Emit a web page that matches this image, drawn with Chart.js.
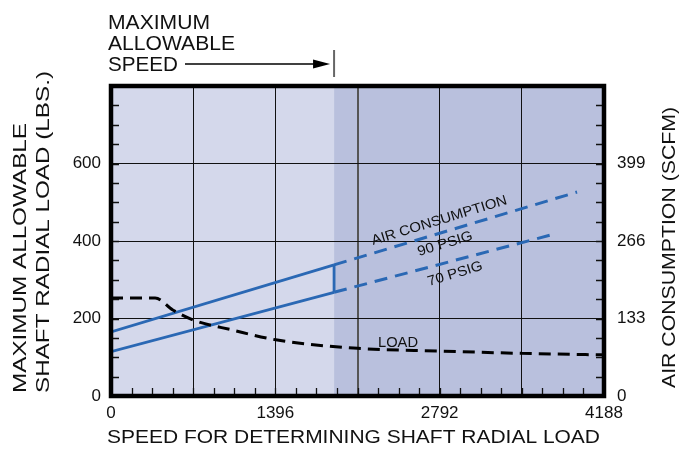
<!DOCTYPE html>
<html lang="en">
<head>
    <meta charset="UTF-8">
    <title>Shaft Radial Load</title>
    <script src="https://cdn.jsdelivr.net/npm/chart.js"></script>
    <style>
        body { margin: 0; background: #fff; }
        canvas { display: block; }
    </style>
</head>
<body>
    <canvas id="loadChart" width="680" height="454"></canvas>
    <script>
        // values
        const maxSpeed = 1895;
        const airSpeed = [0, 1895];
        const air90 = [110, 225];
        const air70 = [76, 178];
        const air90DashSpeed = [1895, 3959];
        const air90Dash = [225, 350];
        const air70DashSpeed = [1895, 3729];
        const air70Dash = [178, 276];
        const loadSpeed = [0, 375, 525, 700, 1035, 1400, 2095, 2795, 3490, 4188];
        const loadLbs = [253, 253, 222, 196, 170, 145, 123, 116, 110, 106];

        const xTicks = [0, 698, 1396, 2094, 2792, 3490, 4188];
        const xLabels = [0, 1396, 2792, 4188];
        const loadTicks = [0, 200, 400, 600, 800];
        const airTicks = [0, 133, 266, 399, 532];

        const FONT = '"Liberation Sans", Arial, sans-serif';
        const BLUE = '#2a68b4';

        function pts(xs, ys) {
            return xs.map((x, i) => ({ x: x, y: ys[i] }));
        }

        // text squeezed/stretched to a given width (the original lettering is wide)
        function wideText(ctx, text, x, y, size, width, angle, align) {
            ctx.save();
            ctx.translate(x, y);
            ctx.rotate(angle || 0);
            ctx.font = size + 'px ' + FONT;
            const w = ctx.measureText(text).width;
            ctx.scale(width / w, 1);
            ctx.textAlign = align || 'left';
            ctx.textBaseline = 'alphabetic';
            ctx.fillStyle = '#111';
            ctx.fillText(text, 0, 0);
            ctx.restore();
        }

        const decor = {
            id: 'decor',
            beforeDraw(chart) {
                const ctx = chart.ctx, a = chart.chartArea, xs = chart.scales.x;
                const mx = xs.getPixelForValue(maxSpeed);
                ctx.save();
                ctx.fillStyle = '#d4d8eb';
                ctx.fillRect(a.left, a.top, mx - a.left, a.bottom - a.top);
                ctx.fillStyle = '#b9c0dd';
                ctx.fillRect(mx, a.top, a.right - mx, a.bottom - a.top);
                ctx.restore();
            },
            afterDraw(chart) {
                const ctx = chart.ctx, a = chart.chartArea;
                const xs = chart.scales.x, ys = chart.scales.y;
                ctx.save();
                // minor ticks inside the frame
                ctx.strokeStyle = '#111';
                ctx.lineWidth = 1.3;
                ctx.beginPath();
                for (let v = 50; v < 800; v += 50) {
                    const py = Math.round(ys.getPixelForValue(v)) + 0.5;
                    ctx.moveTo(a.left, py); ctx.lineTo(a.left + 8, py);
                    ctx.moveTo(a.right, py); ctx.lineTo(a.right - 8, py);
                }
                for (let v = 174.5; v < 4188; v += 174.5) {
                    const px = Math.round(xs.getPixelForValue(v)) + 0.5;
                    ctx.moveTo(px, a.bottom); ctx.lineTo(px, a.bottom - 8);
                }
                ctx.stroke();

                // heavy frame
                ctx.lineWidth = 4.5;
                ctx.strokeStyle = '#000';
                ctx.strokeRect(a.left, a.top, a.right - a.left, a.bottom - a.top);

                // max allowable speed note
                const mx = xs.getPixelForValue(maxSpeed);
                wideText(ctx, 'MAXIMUM', 108, 29, 19.5, 102);
                wideText(ctx, 'ALLOWABLE', 108, 49.5, 19.5, 127);
                wideText(ctx, 'SPEED', 108, 71, 19.5, 70);
                ctx.strokeStyle = '#000';
                ctx.lineWidth = 1.4;
                ctx.beginPath();
                ctx.moveTo(185, 64); ctx.lineTo(mx - 18, 64);
                ctx.stroke();
                ctx.fillStyle = '#000';
                ctx.beginPath();
                ctx.moveTo(mx - 21, 59.5); ctx.lineTo(mx - 4, 64); ctx.lineTo(mx - 21, 68.5);
                ctx.closePath();
                ctx.fill();
                ctx.strokeStyle = '#666';
                ctx.lineWidth = 2;
                ctx.beginPath();
                ctx.moveTo(mx, 50); ctx.lineTo(mx, 77);
                ctx.stroke();

                // axis titles
                wideText(ctx, 'MAXIMUM ALLOWABLE', 26, 393, 18, 270, -Math.PI / 2);
                wideText(ctx, 'SHAFT RADIAL LOAD (LBS.)', 49, 393, 18, 322, -Math.PI / 2);
                wideText(ctx, 'AIR CONSUMPTION (SCFM)', 675, 388, 18.5, 281, -Math.PI / 2);
                wideText(ctx, 'SPEED FOR DETERMINING SHAFT RADIAL LOAD', 107, 443, 18.5, 493);

                // curve labels
                const ang = -17 * Math.PI / 180;
                wideText(ctx, 'AIR CONSUMPTION', 373, 245, 14, 141, ang);
                wideText(ctx, '90 PSIG', 419, 256, 14, 57, ang);
                wideText(ctx, '70 PSIG', 429, 286, 14, 57, ang);
                wideText(ctx, 'LOAD', 378, 347, 14.5, 40);
                ctx.restore();
            }
        };

        const lineBase = { pointRadius: 0, fill: false, borderCapStyle: 'butt' };

        new Chart(document.getElementById('loadChart'), {
            type: 'line',
            data: {
                datasets: [
                    Object.assign({ label: 'Load', data: pts(loadSpeed, loadLbs), yAxisID: 'y',
                        borderColor: '#000', borderWidth: 3, borderDash: [12, 7],
                        cubicInterpolationMode: 'monotone' }, lineBase),
                    Object.assign({ label: '90 PSIG', data: pts(airSpeed, air90), yAxisID: 'y1',
                        borderColor: BLUE, borderWidth: 2.8 }, lineBase),
                    Object.assign({ label: '70 PSIG', data: pts(airSpeed, air70), yAxisID: 'y1',
                        borderColor: BLUE, borderWidth: 2.8 }, lineBase),
                    Object.assign({ label: 'limit', yAxisID: 'y1', borderColor: BLUE, borderWidth: 2.8,
                        data: [{ x: maxSpeed, y: air70[1] }, { x: maxSpeed, y: air90[1] }] }, lineBase),
                    Object.assign({ label: '90 PSIG ext', data: pts(air90DashSpeed, air90Dash), yAxisID: 'y1',
                        borderColor: BLUE, borderWidth: 3, borderDash: [13, 8] }, lineBase),
                    Object.assign({ label: '70 PSIG ext', data: pts(air70DashSpeed, air70Dash), yAxisID: 'y1',
                        borderColor: BLUE, borderWidth: 3, borderDash: [13, 8] }, lineBase)
                ]
            },
            options: {
                responsive: false,
                animation: false,
                layout: { padding: { top: 86, left: 0, right: 0, bottom: 0 } },
                plugins: { legend: { display: false }, tooltip: { enabled: false } },
                scales: {
                    x: {
                        type: 'linear', min: 0, max: 4188,
                        afterBuildTicks: s => { s.ticks = xTicks.map(v => ({ value: v })); },
                        afterFit: s => { s.height = 58; },
                        border: { display: false },
                        grid: {
                            drawTicks: false,
                            color: c => (c.tick.value === 0 || c.tick.value === 4188) ? 'rgba(0,0,0,0)'
                                : (c.tick.value === 2094 ? '#555' : '#111'),
                            lineWidth: c => c.tick.value === 2094 ? 2 : 1
                        },
                        ticks: {
                            autoSkip: false, maxRotation: 0, padding: 7,
                            color: '#111', font: { family: FONT, size: 17 },
                            callback: v => xLabels.includes(v) ? String(v) : ''
                        }
                    },
                    y: {
                        position: 'left', min: 0, max: 800,
                        afterBuildTicks: s => { s.ticks = loadTicks.map(v => ({ value: v })); },
                        afterFit: s => { s.width = 111; },
                        border: { display: false },
                        grid: {
                            drawTicks: false,
                            color: c => (c.tick.value === 0 || c.tick.value === 800) ? 'rgba(0,0,0,0)' : '#111',
                            lineWidth: 1
                        },
                        ticks: {
                            padding: 10, color: '#111', font: { family: FONT, size: 17 },
                            callback: v => v === 800 ? '' : String(v)
                        }
                    },
                    y1: {
                        position: 'right', min: 0, max: 532,
                        afterBuildTicks: s => { s.ticks = airTicks.map(v => ({ value: v })); },
                        afterFit: s => { s.width = 76; },
                        border: { display: false },
                        grid: { display: false, drawTicks: false },
                        ticks: {
                            padding: 13, color: '#111', font: { family: FONT, size: 17 },
                            callback: v => v === 532 ? '' : String(v)
                        }
                    }
                }
            },
            plugins: [decor]
        });
    </script>
</body>
</html>
